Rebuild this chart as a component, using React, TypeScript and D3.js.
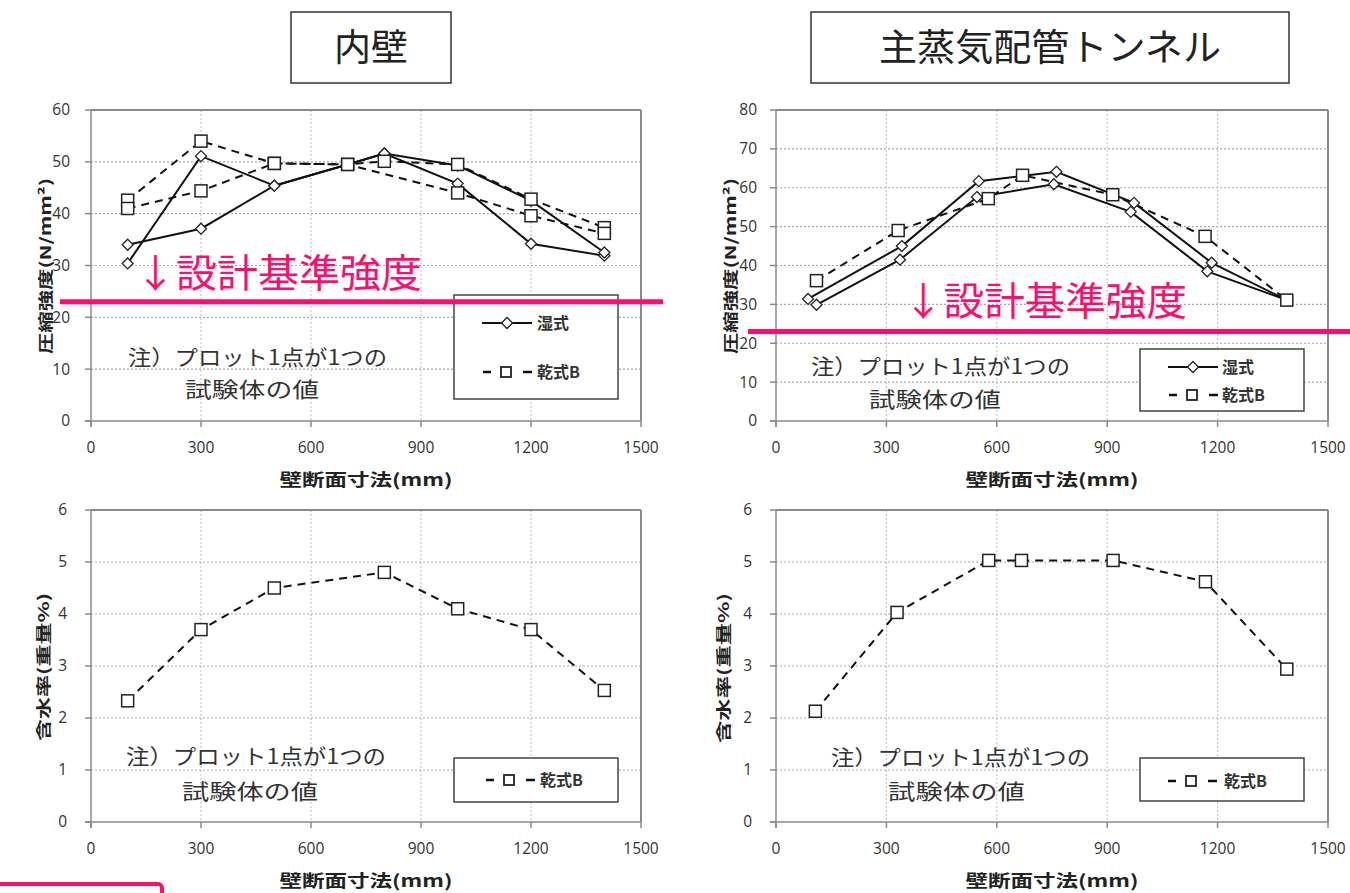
import React from "react";
import * as d3 from "d3";

// ---------- data ----------
const xTicks = [0, 300, 600, 900, 1200, 1500];
const innerStrengthTicks = [0, 10, 20, 30, 40, 50, 60];
const tunnelStrengthTicks = [0, 10, 20, 30, 40, 50, 60, 70, 80];
const moistureTicks = [0, 1, 2, 3, 4, 5, 6];
const designStrength = 23;

// 内壁 圧縮強度
const innerWet1X = [100, 300, 500, 700, 800, 1000, 1200, 1400];
const innerWet1Y = [30.4, 51.1, 45.4, 49.5, 51.6, 45.8, 34.2, 31.9];
const innerWet2X = [100, 300, 500, 700, 800, 1000, 1200, 1400];
const innerWet2Y = [34.0, 37.1, 45.4, 49.5, 51.6, 49.3, 42.5, 32.5];
const innerDry1X = [100, 300, 500, 700, 800, 1000, 1200, 1400];
const innerDry1Y = [42.6, 54.0, 49.7, 49.5, 50.1, 49.5, 42.8, 37.3];
const innerDry2X = [100, 300, 500, 700, 1000, 1200, 1400];
const innerDry2Y = [41.0, 44.4, 49.7, 49.5, 44.0, 39.6, 36.2];

// 主蒸気配管トンネル 圧縮強度
const tunWet1X = [87, 342, 551, 762, 973, 1184, 1388];
const tunWet1Y = [31.4, 45.0, 61.7, 64.1, 56.1, 40.7, 31.1];
const tunWet2X = [110, 337, 546, 755, 964, 1172, 1388];
const tunWet2Y = [29.9, 41.5, 57.6, 60.9, 53.8, 38.5, 31.1];
const tunDryX = [110, 332, 577, 670, 915, 1166, 1388];
const tunDryY = [36.1, 49.0, 57.2, 63.2, 58.2, 47.5, 31.1];

// 含水率
const innerMoistX = [100, 300, 500, 800, 1000, 1200, 1400];
const innerMoistY = [2.33, 3.7, 4.5, 4.8, 4.1, 3.7, 2.53];
const tunMoistX = [107, 329, 578, 667, 916, 1167, 1388];
const tunMoistY = [2.13, 4.03, 5.03, 5.03, 5.03, 4.62, 2.94];

const titles = ["内壁", "主蒸気配管トンネル"];
const wetLabel = "湿式";
const dryLabel = "乾式B";
const noteLine1 = "注）プロット1点が1つの";
const noteLine2 = "試験体の値";
const designLabel = "↓設計基準強度";
const xAxisLabel = "壁断面寸法(mm)";
const strengthLabel = "圧縮強度(N/mm²)";
const moistureLabel = "含水率(重量%)";

// ---------- styles ----------
const PINK = "#ff0d6e";
const JP = "'Noto Sans CJK JP', 'Noto Sans', sans-serif";
const NUM = "'Open Sans', 'Liberation Sans', sans-serif";

type Series = { xs: number[]; ys: number[]; kind: "wet" | "dry" };

type PanelCfg = {
  left: number; right: number; top: number; bottom: number;
  yTicks: number[];
  series: Series[];
  ylabel: string; ylabelX: number; ylabelY: number; ylabelLen: number;
  tickOffset: number;
  xlabelY: number;
  legend: { x: number; y: number; w: number; h: number; rows: { kind: "wet" | "dry"; label: string; y: number }[]; lineX: number; textX: number };
  note: { x1: number; y1: number; len1: number; x2: number; y2: number; len2: number };
  design?: { x1: number; x2: number; tx: number; ty: number; tlen: number };
};

function Marker({ kind, x, y }: { kind: "wet" | "dry"; x: number; y: number }) {
  if (kind === "wet") {
    const r = 5.5;
    return (
      <path
        d={`M${x},${y - r}L${x + r},${y}L${x},${y + r}L${x - r},${y}Z`}
        fill="#fff"
        stroke="#222"
        strokeWidth={1.3}
      />
    );
  }
  const s = 12;
  return <rect x={x - s / 2} y={y - s / 2} width={s} height={s} fill="#fff" stroke="#222" strokeWidth={1.5} />;
}

function Panel({ cfg }: { cfg: PanelCfg }) {
  const x = d3.scaleLinear().domain([0, 1500]).range([cfg.left, cfg.right]);
  const yMax = cfg.yTicks[cfg.yTicks.length - 1];
  const y = d3.scaleLinear().domain([0, yMax]).range([cfg.bottom, cfg.top]);
  const line = d3
    .line<[number, number]>()
    .x((d) => x(d[0]))
    .y((d) => y(d[1]));
  const cx = (cfg.left + cfg.right) / 2;
  const lg = cfg.legend;
  return (
    <g>
      {/* grid */}
      {cfg.yTicks.filter((t) => t !== 0 && t !== yMax).map((t) => (
        <line key={"gy" + t} x1={cfg.left} x2={cfg.right} y1={y(t)} y2={y(t)} stroke="#a8a8a8" strokeWidth={1.2} strokeDasharray="2,2" />
      ))}
      {xTicks.filter((t) => t !== 0 && t !== 1500).map((t) => (
        <line key={"gx" + t} x1={x(t)} x2={x(t)} y1={cfg.top} y2={cfg.bottom} stroke="#c4c4c4" strokeWidth={1.1} strokeDasharray="2,2" />
      ))}
      {/* frame */}
      <line x1={cfg.left} x2={cfg.right} y1={cfg.top} y2={cfg.top} stroke="#8a8a8a" strokeWidth={2} />
      <line x1={cfg.right} x2={cfg.right} y1={cfg.top} y2={cfg.bottom} stroke="#8a8a8a" strokeWidth={2} />
      <line x1={cfg.left} x2={cfg.left} y1={cfg.top} y2={cfg.bottom + 6} stroke="#8a8a8a" strokeWidth={1.5} />
      <line x1={cfg.left - 6} x2={cfg.right} y1={cfg.bottom} y2={cfg.bottom} stroke="#8a8a8a" strokeWidth={1.5} />
      {cfg.yTicks.map((t) => (
        <g key={"ty" + t}>
          <line x1={cfg.left - 6} x2={cfg.left} y1={y(t)} y2={y(t)} stroke="#8a8a8a" strokeWidth={1.5} />
          <text x={cfg.left - cfg.tickOffset} y={y(t)} dy="0.35em" textAnchor="end" fontFamily={NUM} fontSize={15.5} fill="#333">
            {t}
          </text>
        </g>
      ))}
      {xTicks.map((t) => (
        <g key={"tx" + t}>
          <line x1={x(t)} x2={x(t)} y1={cfg.bottom} y2={cfg.bottom + 6} stroke="#8a8a8a" strokeWidth={1.5} />
          <text x={x(t)} y={cfg.bottom + 27} dy="0.35em" textAnchor="middle" fontFamily={NUM} fontSize={15.5} fill="#333">
            {t}
          </text>
        </g>
      ))}
      {/* axis labels */}
      <text x={cx} y={cfg.xlabelY} dy="0.35em" textAnchor="middle" fontFamily={JP} fontWeight="bold" fontSize={17} fill="#222" textLength={173} lengthAdjust="spacingAndGlyphs">
        {xAxisLabel}
      </text>
      <text
        transform={`translate(${cfg.ylabelX},${cfg.ylabelY}) rotate(-90)`}
        textAnchor="middle"
        dy="0.35em"
        fontFamily={JP}
        fontWeight="bold"
        fontSize={15}
        fill="#222"
        textLength={cfg.ylabelLen}
        lengthAdjust="spacingAndGlyphs"
      >
        {cfg.ylabel}
      </text>
      {/* series lines */}
      {cfg.series.map((s, i) => (
        <path
          key={"l" + i}
          d={line(s.xs.map((v, j) => [v, s.ys[j]] as [number, number])) || ""}
          fill="none"
          stroke="#111"
          strokeWidth={2}
          strokeDasharray={s.kind === "dry" ? "8,6" : undefined}
        />
      ))}
      {cfg.series.map((s, i) =>
        s.xs.map((v, j) => <Marker key={"m" + i + "-" + j} kind={s.kind} x={x(v)} y={y(s.ys[j])} />)
      )}
      {/* note */}
      <text x={cfg.note.x1} y={cfg.note.y1} dy="0.35em" fontFamily={JP} fontSize={21} fill="#333" textLength={cfg.note.len1} lengthAdjust="spacingAndGlyphs">
        {noteLine1}
      </text>
      <text x={cfg.note.x2} y={cfg.note.y2} dy="0.35em" fontFamily={JP} fontSize={21} fill="#333" textLength={cfg.note.len2} lengthAdjust="spacingAndGlyphs">
        {noteLine2}
      </text>
      {/* legend */}
      <rect x={lg.x} y={lg.y} width={lg.w} height={lg.h} fill="#fff" stroke="#444" strokeWidth={1.5} />
      {lg.rows.map((r, i) => (
        <g key={"lg" + i}>
          {r.kind === "wet" ? (
            <line x1={lg.lineX} x2={lg.lineX + 50} y1={r.y} y2={r.y} stroke="#111" strokeWidth={2} />
          ) : (
            <g>
              <line x1={lg.lineX + 1} x2={lg.lineX + 9} y1={r.y} y2={r.y} stroke="#111" strokeWidth={2.5} />
              <line x1={lg.lineX + 41} x2={lg.lineX + 50} y1={r.y} y2={r.y} stroke="#111" strokeWidth={2.5} />
            </g>
          )}
          {r.kind === "wet" ? (
            <Marker kind="wet" x={lg.lineX + 25} y={r.y} />
          ) : (
            <rect x={lg.lineX + 19} y={r.y - 5} width={10} height={10} fill="#fff" stroke="#222" strokeWidth={1.8} />
          )}
          <text x={lg.textX} y={r.y} dy="0.35em" fontFamily={JP} fontSize={16} fontWeight="bold" fill="#333">
            {r.label}
          </text>
        </g>
      ))}
      {/* design strength */}
      {cfg.design && (
        <g>
          <line x1={cfg.design.x1} x2={cfg.design.x2} y1={y(designStrength)} y2={y(designStrength)} stroke={PINK} strokeWidth={5} />
          <text x={cfg.design.tx} y={cfg.design.ty} dy="0.35em" fontFamily={JP} fontSize={39} fill={PINK} textLength={cfg.design.tlen} lengthAdjust="spacingAndGlyphs">
            {designLabel}
          </text>
        </g>
      )}
    </g>
  );
}

const panels: PanelCfg[] = [
  {
    left: 91, right: 641, top: 110, bottom: 421,
    yTicks: innerStrengthTicks,
    series: [
      { xs: innerWet1X, ys: innerWet1Y, kind: "wet" },
      { xs: innerWet2X, ys: innerWet2Y, kind: "wet" },
      { xs: innerDry1X, ys: innerDry1Y, kind: "dry" },
      { xs: innerDry2X, ys: innerDry2Y, kind: "dry" },
    ],
    ylabel: strengthLabel, ylabelX: 46, ylabelY: 266, ylabelLen: 176,
    tickOffset: 21, xlabelY: 480,
    legend: { x: 454, y: 295, w: 164, h: 104, lineX: 482, textX: 537, rows: [{ kind: "wet", label: wetLabel, y: 323 }, { kind: "dry", label: dryLabel, y: 372 }] },
    note: { x1: 128, y1: 358, len1: 259, x2: 185, y2: 390, len2: 134 },
    design: { x1: 60, x2: 663, tx: 135, ty: 273, tlen: 287 },
  },
  {
    left: 776, right: 1328, top: 110, bottom: 421,
    yTicks: tunnelStrengthTicks,
    series: [
      { xs: tunWet1X, ys: tunWet1Y, kind: "wet" },
      { xs: tunWet2X, ys: tunWet2Y, kind: "wet" },
      { xs: tunDryX, ys: tunDryY, kind: "dry" },
    ],
    ylabel: strengthLabel, ylabelX: 731, ylabelY: 266, ylabelLen: 176,
    tickOffset: 19, xlabelY: 480,
    legend: { x: 1140, y: 349, w: 164, h: 62, lineX: 1168, textX: 1222, rows: [{ kind: "wet", label: wetLabel, y: 367 }, { kind: "dry", label: dryLabel, y: 395 }] },
    note: { x1: 811, y1: 367, len1: 259, x2: 869, y2: 400, len2: 132 },
    design: { x1: 748, x2: 1350, tx: 903, ty: 301, tlen: 284 },
  },
  {
    left: 91, right: 641, top: 510, bottom: 822,
    yTicks: moistureTicks,
    series: [{ xs: innerMoistX, ys: innerMoistY, kind: "dry" }],
    ylabel: moistureLabel, ylabelX: 44, ylabelY: 667, ylabelLen: 148,
    tickOffset: 24, xlabelY: 881,
    legend: { x: 454, y: 758, w: 164, h: 44, lineX: 485, textX: 540, rows: [{ kind: "dry", label: dryLabel, y: 780 }] },
    note: { x1: 126, y1: 757, len1: 260, x2: 182, y2: 792, len2: 136 },
  },
  {
    left: 776, right: 1328, top: 510, bottom: 822,
    yTicks: moistureTicks,
    series: [{ xs: tunMoistX, ys: tunMoistY, kind: "dry" }],
    ylabel: moistureLabel, ylabelX: 724, ylabelY: 668, ylabelLen: 150,
    tickOffset: 24, xlabelY: 881,
    legend: { x: 1140, y: 758, w: 164, h: 43, lineX: 1167, textX: 1224, rows: [{ kind: "dry", label: dryLabel, y: 781 }] },
    note: { x1: 831, y1: 758, len1: 259, x2: 888, y2: 792, len2: 137 },
  },
];

export default function App() {
  return (
    <svg
      width={1350}
      height={893}
      style={{ position: "absolute", left: 0, top: 0, background: "#fff" }}
    >
      <rect x={0} y={0} width={1350} height={893} fill="#fff" />
      {/* titles */}
      <rect x={291} y={12} width={160} height={71} fill="#fff" stroke="#333" strokeWidth={1.5} />
      <text x={371} y={48} dy="0.35em" textAnchor="middle" fontFamily={JP} fontSize={37} fill="#222">
        {titles[0]}
      </text>
      <rect x={811} y={12} width={478} height={71} fill="#fff" stroke="#333" strokeWidth={1.5} />
      <text x={1050} y={48} dy="0.35em" textAnchor="middle" fontFamily={JP} fontSize={37} fill="#222" textLength={342} lengthAdjust="spacingAndGlyphs">
        {titles[1]}
      </text>
      {panels.map((p, i) => (
        <Panel key={i} cfg={p} />
      ))}
      {/* cropped pink frame at bottom-left */}
      <rect x={-10} y={884} width={172} height={40} rx={4} fill="none" stroke={PINK} strokeWidth={4} />
    </svg>
  );
}
